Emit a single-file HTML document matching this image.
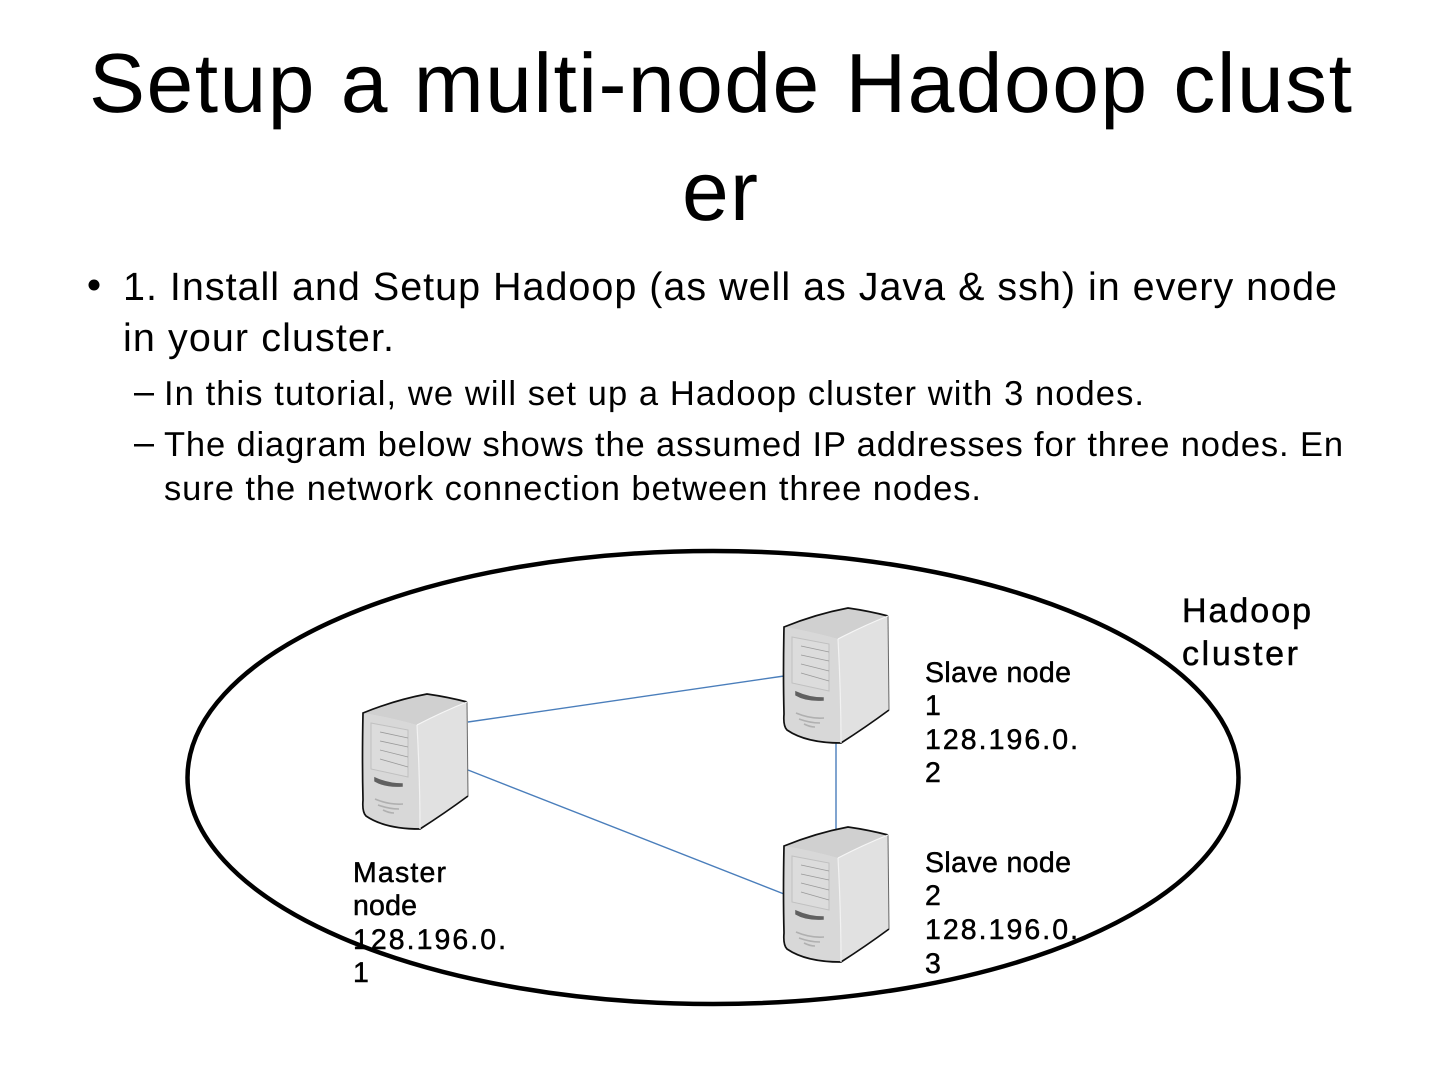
<!DOCTYPE html>
<html><head><meta charset="utf-8"><style>
html,body{margin:0;padding:0;background:#fff;width:1440px;height:1080px;overflow:hidden}
svg{display:block}
text{font-family:"Liberation Sans",sans-serif;fill:#000;text-rendering:geometricPrecision}
.l{font-size:39.5px}.s{font-size:34.5px}.n{font-size:28.5px;stroke:#000;stroke-width:.5px}
</style></head><body>
<svg width="1440" height="1080" viewBox="0 0 1440 1080" xmlns="http://www.w3.org/2000/svg">
<defs>
<g id="srv">
<path d="M363 713 Q395 700 427 694 Q448 697 467 702 L468 796 Q445 813 420 829 Q385 829 366 816 Q362 812 363 800 Z" fill="#dcdcdc"/>
<path d="M363 713 Q395 700 427 694 Q448 697 467 702 Q440 712 417 725 Q388 717 363 713Z" fill="#d0d0d0"/>
<path d="M417 725 Q442 712 467 702 L468 796 Q445 813 420 829 Q420 780 417 725Z" fill="#e1e1e1"/>
<path d="M363 713 Q388 717 417 725 Q420 780 420 829 Q385 829 366 816 Q362 812 363 800Z" fill="#d8d8d8"/>
<path d="M371 723 L408 730 L408 777 L371 769Z" fill="#dcdcdc" stroke="#c0c0c0" stroke-width="1"/>
<path d="M380 732 L408 738 M380 741 L408 747 M380 750 L408 757 M380 759 L408 767" stroke="#999" stroke-width=".8" fill="none"/>
<path d="M375 778 Q388 784 402 784 L402 786 Q385 787 375 781Z" fill="#606060" stroke="#606060" stroke-width="1.5"/>
<path d="M375 799 Q389 805 403 804 M378 805 Q389 809 399 809 M383 810 Q389 813 394 813" stroke="#b0b0b0" stroke-width="1.6" fill="none"/>
<path d="M467 702 Q448 697 427 694 Q395 700 363 713 Q362 760 363 800 Q362 812 366 816 Q385 829 420 829 Q445 813 468 796" fill="none" stroke="#111" stroke-width="1.7"/>
<path d="M467 702 L468 796" fill="none" stroke="#666" stroke-width="1"/>
<path d="M417 725 Q442 712 467 702" fill="none" stroke="#f6f6f6" stroke-width="1.2"/>
<path d="M417 725 Q420 780 420 829" fill="none" stroke="#f2f2f2" stroke-width="1.2"/>
</g>
</defs>

<text x="89" y="112" font-size="84" textLength="1263" lengthAdjust="spacing">Setup a multi-node Hadoop clust</text>
<text x="682" y="220" font-size="84" textLength="76" lengthAdjust="spacing">er</text>

<circle cx="94" cy="285" r="5.5" fill="#000"/>
<text class="l" x="123" y="300" textLength="1214" lengthAdjust="spacing">1. Install and Setup Hadoop (as well as Java &amp; ssh) in every node</text>
<text class="l" x="123" y="351" textLength="271" lengthAdjust="spacing">in your cluster.</text>
<rect x="134" y="393" width="20" height="2.5" fill="#000"/>
<text class="s" x="164" y="405" textLength="980" lengthAdjust="spacing">In this tutorial, we will set up a Hadoop cluster with 3 nodes.</text>
<rect x="134" y="444" width="20" height="2.5" fill="#000"/>
<text class="s" x="164" y="456" textLength="1179" lengthAdjust="spacing">The diagram below shows the assumed IP addresses for three nodes. En</text>
<text class="s" x="164" y="500" textLength="817" lengthAdjust="spacing">sure the network connection between three nodes.</text>

<ellipse cx="713" cy="777.5" rx="525.5" ry="226.5" fill="none" stroke="#000" stroke-width="4.5"/>

<path d="M468 722 L784 676 M468 770 L784 894 M836 742 L836 830" stroke="#4a7ebb" stroke-width="1.4" fill="none"/>

<use href="#srv"/>
<use href="#srv" transform="translate(421,-86)"/>
<use href="#srv" transform="translate(421,133)"/>

<text class="n" style="font-size:34px" x="1182" y="622" textLength="129" lengthAdjust="spacing">Hadoop</text>
<text class="n" style="font-size:34px" x="1182" y="665" textLength="116" lengthAdjust="spacing">cluster</text>

<text class="n" x="925" y="682" textLength="146" lengthAdjust="spacing">Slave node</text>
<text class="n" x="925" y="715">1</text>
<text class="n" x="925" y="749" textLength="153" lengthAdjust="spacing">128.196.0.</text>
<text class="n" x="925" y="782">2</text>

<text class="n" x="925" y="872" textLength="146" lengthAdjust="spacing">Slave node</text>
<text class="n" x="925" y="905">2</text>
<text class="n" x="925" y="939" textLength="153" lengthAdjust="spacing">128.196.0.</text>
<text class="n" x="925" y="973">3</text>

<text class="n" x="353" y="882" textLength="93" lengthAdjust="spacing">Master</text>
<text class="n" x="353" y="915" textLength="64" lengthAdjust="spacing">node</text>
<text class="n" x="353" y="949" textLength="153" lengthAdjust="spacing">128.196.0.</text>
<text class="n" x="353" y="982">1</text>
</svg>
</body></html>
